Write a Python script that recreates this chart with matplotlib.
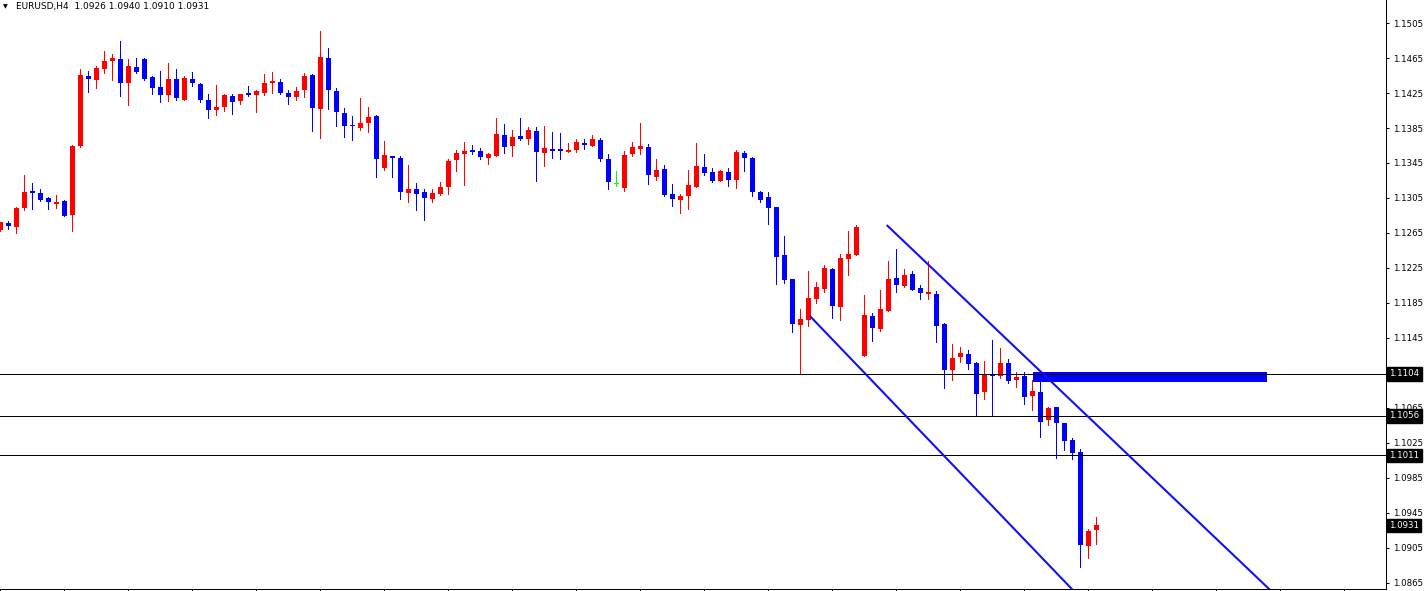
import matplotlib
matplotlib.use("Agg")
import matplotlib.pyplot as plt
import matplotlib.transforms as mtransforms
from matplotlib.patches import Rectangle
import numpy as np

# ---------------- data (EURUSD H4) ----------------
opens = [1.1268, 1.1276, 1.1272, 1.1294, 1.1313, 1.1311, 1.1305, 1.1298, 1.1302, 1.1285,
         1.1364, 1.1444, 1.1440, 1.1452, 1.1462, 1.1464, 1.1436, 1.1455, 1.1464, 1.1443,
         1.1432, 1.1423, 1.1441, 1.1417, 1.1441, 1.1435, 1.1417, 1.1406, 1.1409, 1.1422,
         1.1416, 1.1425, 1.1423, 1.1425, 1.1437, 1.1438, 1.1425, 1.1421, 1.1428, 1.1446,
         1.1407, 1.1465, 1.1427, 1.1402, 1.1388, 1.1385, 1.1391, 1.1399, 1.1339, 1.1353,
         1.1351, 1.1311, 1.1315, 1.1312, 1.1304, 1.1309, 1.1318, 1.1348, 1.1355, 1.1360,
         1.1359, 1.1351, 1.1353, 1.1377, 1.1364, 1.1376, 1.1373, 1.1382, 1.1356, 1.1361,
         1.1361, 1.1358, 1.1360, 1.1368, 1.1365, 1.1371, 1.1350, 1.1321, 1.1316, 1.1355,
         1.1361, 1.1363, 1.1329, 1.1338, 1.1310, 1.1303, 1.1307, 1.1318, 1.1340, 1.1335,
         1.1324, 1.1335, 1.1326, 1.1356, 1.1351, 1.1312, 1.1306, 1.1295, 1.1240, 1.1212,
         1.1160, 1.1166, 1.1190, 1.1201, 1.1224, 1.1180, 1.1235, 1.1240, 1.1124, 1.1170,
         1.1155, 1.1176, 1.1214, 1.1204, 1.1218, 1.1202, 1.1195, 1.1195, 1.1161, 1.1108,
         1.1123, 1.1127, 1.1116, 1.1083, 1.1104, 1.1102, 1.1116, 1.1097, 1.1102, 1.1079,
         1.1083, 1.1051, 1.1066, 1.1048, 1.1028, 1.1015, 1.0907, 1.0926]
highs = [1.1278, 1.1279, 1.1295, 1.1331, 1.1322, 1.1315, 1.1306, 1.1308, 1.1303, 1.1366,
         1.1452, 1.1450, 1.1456, 1.1473, 1.1470, 1.1484, 1.1464, 1.1465, 1.1465, 1.1444,
         1.1450, 1.1459, 1.1452, 1.1444, 1.1449, 1.1436, 1.1424, 1.1434, 1.1424, 1.1424,
         1.1424, 1.1433, 1.1428, 1.1447, 1.1449, 1.1441, 1.1428, 1.1432, 1.1448, 1.1447,
         1.1496, 1.1476, 1.1431, 1.1408, 1.1399, 1.1419, 1.1409, 1.1400, 1.1370, 1.1353,
         1.1353, 1.1343, 1.1322, 1.1315, 1.1315, 1.1323, 1.1350, 1.1360, 1.1369, 1.1366,
         1.1362, 1.1356, 1.1396, 1.1390, 1.1383, 1.1396, 1.1386, 1.1386, 1.1387, 1.1380,
         1.1379, 1.1368, 1.1372, 1.1372, 1.1377, 1.1374, 1.1355, 1.1336, 1.1359, 1.1369,
         1.1391, 1.1367, 1.1350, 1.1343, 1.1321, 1.1310, 1.1337, 1.1368, 1.1355, 1.1339,
         1.1337, 1.1339, 1.1360, 1.1359, 1.1352, 1.1313, 1.1312, 1.1295, 1.1262, 1.1212,
         1.1178, 1.1222, 1.1209, 1.1228, 1.1225, 1.1241, 1.1267, 1.1274, 1.1194, 1.1174,
         1.1200, 1.1233, 1.1247, 1.1224, 1.1222, 1.1206, 1.1233, 1.1199, 1.1162, 1.1138,
         1.1135, 1.1131, 1.1118, 1.1119, 1.1143, 1.1134, 1.1121, 1.1106, 1.1106, 1.1097,
         1.1097, 1.1066, 1.1066, 1.1048, 1.1031, 1.1018, 1.0927, 1.0940]
lows = [1.1267, 1.1270, 1.1265, 1.1291, 1.1292, 1.1302, 1.1292, 1.1294, 1.1284, 1.1267,
        1.1363, 1.1426, 1.1431, 1.1448, 1.1440, 1.1422, 1.1411, 1.1448, 1.1440, 1.1424,
        1.1415, 1.1416, 1.1417, 1.1417, 1.1433, 1.1415, 1.1397, 1.1400, 1.1404, 1.1401,
        1.1413, 1.1422, 1.1403, 1.1423, 1.1425, 1.1424, 1.1413, 1.1417, 1.1420, 1.1382,
        1.1374, 1.1407, 1.1387, 1.1375, 1.1371, 1.1383, 1.1381, 1.1329, 1.1337, 1.1329,
        1.1304, 1.1300, 1.1291, 1.1280, 1.1300, 1.1308, 1.1309, 1.1336, 1.1320, 1.1355,
        1.1350, 1.1344, 1.1353, 1.1356, 1.1353, 1.1371, 1.1367, 1.1324, 1.1342, 1.1351,
        1.1350, 1.1357, 1.1357, 1.1361, 1.1365, 1.1347, 1.1315, 1.1319, 1.1313, 1.1353,
        1.1355, 1.1321, 1.1325, 1.1307, 1.1296, 1.1288, 1.1292, 1.1318, 1.1331, 1.1323,
        1.1324, 1.1319, 1.1316, 1.1336, 1.1307, 1.1300, 1.1275, 1.1207, 1.1208, 1.1152,
        1.1105, 1.1159, 1.1185, 1.1198, 1.1168, 1.1166, 1.1217, 1.1240, 1.1124, 1.1141,
        1.1153, 1.1176, 1.1197, 1.1203, 1.1200, 1.1190, 1.1190, 1.1140, 1.1088, 1.1097,
        1.1117, 1.1110, 1.1057, 1.1075, 1.1056, 1.1099, 1.1093, 1.1089, 1.1070, 1.1063,
        1.1032, 1.1046, 1.1008, 1.1017, 1.1007, 1.0883, 1.0894, 1.0910]
closes = [1.1277, 1.1273, 1.1294, 1.1312, 1.1311, 1.1303, 1.1300, 1.1300, 1.1284, 1.1364,
          1.1446, 1.1441, 1.1454, 1.1462, 1.1465, 1.1437, 1.1456, 1.1449, 1.1441, 1.1431,
          1.1423, 1.1441, 1.1419, 1.1442, 1.1436, 1.1417, 1.1406, 1.1409, 1.1423, 1.1415,
          1.1424, 1.1423, 1.1427, 1.1436, 1.1439, 1.1425, 1.1420, 1.1427, 1.1444, 1.1408,
          1.1466, 1.1428, 1.1403, 1.1387, 1.1387, 1.1391, 1.1398, 1.1349, 1.1354, 1.1351,
          1.1312, 1.1315, 1.1310, 1.1305, 1.1311, 1.1318, 1.1347, 1.1356, 1.1359, 1.1357,
          1.1352, 1.1355, 1.1378, 1.1363, 1.1375, 1.1372, 1.1383, 1.1357, 1.1362, 1.1359,
          1.1359, 1.1360, 1.1369, 1.1366, 1.1372, 1.1349, 1.1323, 1.1321, 1.1354, 1.1363,
          1.1364, 1.1331, 1.1337, 1.1308, 1.1304, 1.1307, 1.1320, 1.1342, 1.1333, 1.1324,
          1.1336, 1.1325, 1.1358, 1.1351, 1.1312, 1.1303, 1.1293, 1.1238, 1.1211, 1.1161,
          1.1167, 1.1191, 1.1203, 1.1225, 1.1181, 1.1236, 1.1241, 1.1272, 1.1171, 1.1156,
          1.1178, 1.1212, 1.1205, 1.1217, 1.1200, 1.1196, 1.1197, 1.1159, 1.1108, 1.1122,
          1.1128, 1.1115, 1.1081, 1.1104, 1.1101, 1.1116, 1.1096, 1.1100, 1.1078, 1.1084,
          1.1049, 1.1065, 1.1048, 1.1027, 1.1013, 1.0908, 1.0924, 1.0931]

level_lines = [1.1104, 1.1056, 1.1011]
last_price = 1.0931
y_ticks = [1.1505, 1.1465, 1.1425, 1.1385, 1.1345, 1.1305, 1.1265, 1.1225, 1.1185,
           1.1145, 1.1065, 1.1025, 1.0985, 1.0945, 1.0905, 1.0865]

# drawn objects: (bar index, price) anchors
channel_upper = [(110.8, 1.12741), (160.0, 1.08459)]
channel_lower = [(101.2, 1.11701), (136.0, 1.08385)]
zone = {"x0": 129.1, "x1": 158.3, "p0": 1.1095, "p1": 1.1106}

title = "EURUSD,H4  1.0926 1.0940 1.0910 1.0931"

# ---------------- figure ----------------
W, H = 1427, 591
fig = plt.figure(figsize=(W / 100, H / 100), dpi=100)
fig.patch.set_facecolor("white")
ax = fig.add_axes([0, 2 / H, 1386 / W, 589 / H])
ax.set_facecolor("white")

o = np.array(opens); h = np.array(highs); l = np.array(lows); c = np.array(closes)
idx = np.arange(len(o))
cols = np.where(c > o, "#FF0000", np.where(c < o, "#0000FF", "#00FF00"))

ax.add_patch(Rectangle((zone["x0"], zone["p0"]), zone["x1"] - zone["x0"],
                       zone["p1"] - zone["p0"], facecolor="#0000FF", edgecolor="none",
                       zorder=1.5))

ax.vlines(idx, l, h, colors=cols, linewidth=0.72, antialiased=False, zorder=2)
px = 1.0 / 8750
ax.bar(idx, np.maximum(np.abs(c - o), 1.2 * px), bottom=np.minimum(o, c), width=0.6,
       color=cols, linewidth=0, antialiased=False, zorder=2.1)

for lv in level_lines:
    ax.axhline(lv, color="black", linewidth=0.72, antialiased=False, zorder=2.2)

for line in (channel_upper, channel_lower):
    xs, ys = zip(*line)
    ax.plot(xs, ys, color="#1010FF", linewidth=1.5, solid_capstyle="butt", zorder=2.3)

ax.set_xlim(-0.04, (1386 - 0.3) / 8)
ax.set_ylim(1.08581, 1.15313)

for s in ("top", "left"):
    ax.spines[s].set_visible(False)
for s in ("right", "bottom"):
    ax.spines[s].set_color("black")
    ax.spines[s].set_linewidth(0.72)

ax.set_xticks(np.arange(0, 174, 8))
ax.tick_params(axis="x", direction="out", length=2, width=0.72, labelbottom=False)
ax.yaxis.tick_right()
ax.set_yticks(y_ticks)
ax.set_yticklabels([f"{t:.4f}" for t in y_ticks])
ax.tick_params(axis="y", direction="out", length=2.3, width=0.72, pad=2.5,
               labelsize=6.2, labelcolor="black")

trans = mtransforms.blended_transform_factory(ax.transAxes, ax.transData)
for lv in level_lines + [last_price]:
    ax.annotate(f"{lv:.4f}", xy=(1, lv), xycoords=trans, xytext=(2.4, 0),
                textcoords="offset points", ha="left", va="center", fontsize=6.2,
                color="white", annotation_clip=False, zorder=5,
                bbox=dict(boxstyle="square,pad=0.25", facecolor="black", edgecolor="black"))

fig.text(3 / W, 1 - 7 / H, "\u25BC", fontsize=4.5, va="center", ha="left", color="black")
fig.text(16 / W, 1 - 7 / H, title, fontsize=6.5, va="center", ha="left", color="black")

fig.savefig("out.png", dpi=100)
